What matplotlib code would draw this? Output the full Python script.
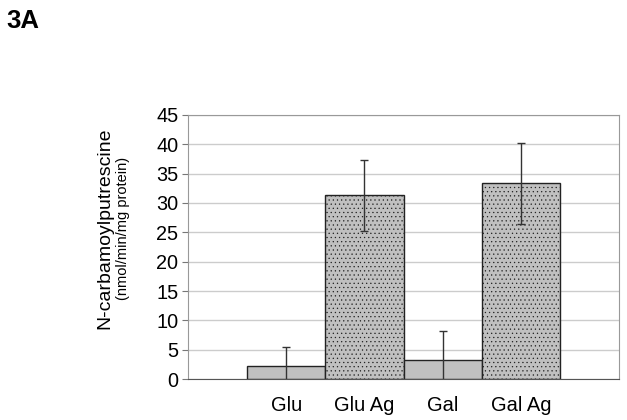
import matplotlib
matplotlib.use("Agg")
import matplotlib.pyplot as plt

plt.rcParams['font.family'] = ['Liberation Sans', 'DejaVu Sans']
plt.rcParams['hatch.linewidth'] = 0.4
plt.rcParams['hatch.color'] = '#666666'

categories = ['Glu', 'Glu Ag', 'Gal', 'Gal Ag']
values = [2.3, 31.3, 3.2, 33.4]
errors = [3.2, 6.0, 5.0, 6.9]
hatches = ['', '....', '', '....']

fig = plt.figure(figsize=(6.27, 4.2), dpi=100)
ax = fig.add_axes([0.2998, 0.0976, 0.6875, 0.6286])

x = range(len(categories))
bars = ax.bar(x, values, width=1.0, color='#c0c0c0', edgecolor='#222222',
              linewidth=1.0, zorder=2)
for b, h in zip(bars, hatches):
    b.set_hatch(h)
ax.errorbar(x, values, yerr=errors, fmt='none', ecolor='#333333',
            elinewidth=1.0, capsize=3, capthick=1.0, zorder=3)

ax.set_xlim(-1.256, 4.256)
ax.set_ylim(0, 45)
ax.set_yticks(range(0, 46, 5))
ax.set_xticks(list(x))
ax.set_xticklabels(categories, fontsize=14.5)
ax.tick_params(axis='x', length=0, pad=12)
ax.tick_params(axis='y', labelsize=14.3, length=4, color='#777777', pad=3)
ax.yaxis.grid(True, color='#cccccc', linewidth=1.0, zorder=0)
ax.set_axisbelow(True)

for side in ['top', 'right', 'left']:
    ax.spines[side].set_color('#999999')
ax.spines['bottom'].set_color('#555555')

fig.text(0.167, 0.457, 'N-carbamoylputrescine', rotation=90, fontsize=14,
         ha='center', va='center')
fig.text(0.196, 0.455, '(nmol/min/mg protein)', rotation=90, fontsize=10.5,
         ha='center', va='center')
fig.text(0.01, 0.949, '3A', fontsize=18.5, fontweight='bold', ha='left', va='center')

fig.savefig('out.png', dpi=100)
